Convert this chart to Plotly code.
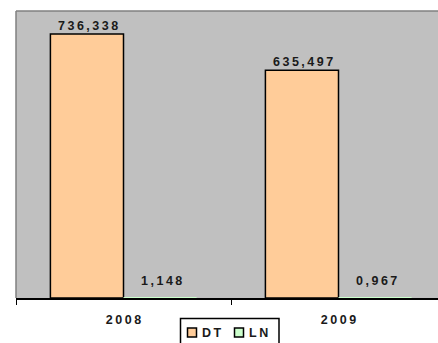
import plotly.graph_objects as go

years = ["2008", "2009"]
dt_values = [736.338, 635.497]
ln_values = [1.148, 0.967]
series_names = ["DT", "LN"]
series_colors = ["#FFCC99", "#CCFFCC"]

THIN = "\u2009"
FONT = "Liberation Sans, Arial, sans-serif"
TEXT_COLOR = "#1a1a1a"

# layout geometry (pixels)
W, H = 438, 343
M_L, M_T, M_B = 16, 11, 45
PLOT_W = W - M_L
PLOT_H = H - M_T - M_B
CAT_PX = 215          # width of one category slot
BARGAP = 0.32
Y_MAX = 800.5


def spaced(s):
    return THIN.join(s)


def fmt(v):
    # comma as decimal separator, letters spread apart
    return spaced(f"{v:.3f}".replace(".", ","))


def px_x(px):
    return (px - M_L) / PLOT_W


def px_y(py):
    return (H - M_B - py) / PLOT_H


bold = dict(family=FONT, size=12.5, color=TEXT_COLOR, weight="bold")

fig = go.Figure()
series_values = [dt_values, ln_values]
for name, color, vals in zip(series_names, series_colors, series_values):
    fig.add_trace(go.Bar(
        name=name, x=years, y=vals, showlegend=False,
        marker=dict(color=color,
                    line=dict(color="#000000", width=1.5 if max(vals) > 10 else 0)),
        hoverinfo="x+y",
    ))

# value labels above each bar (category axis: positions by category index)
bar_w = (1 - BARGAP) / len(series_names)
label_lift = [8.5, 17]
annotations = []
for i, (vals, lift) in enumerate(zip(series_values, label_lift)):
    offset = (-(len(series_names) - 1) / 2 + i) * bar_w
    for j, v in enumerate(vals):
        annotations.append(dict(
            x=j + offset, y=v, xref="x", yref="y", text=fmt(v), showarrow=False,
            xshift=1, yshift=lift, yanchor="middle", font=bold,
        ))

# legend box with outlined swatches
shapes = [
    dict(type="line", xref="paper", yref="paper", x0=0, x1=1, y0=1, y1=1,
         line=dict(color="#808080", width=1.5)),
    dict(type="line", xref="paper", yref="paper", x0=0, x1=0, y0=0, y1=1,
         line=dict(color="#808080", width=1.5)),
    dict(type="rect", xref="paper", yref="paper",
         x0=px_x(180.5), x1=px_x(279), y0=px_y(318.5), y1=px_y(360),
         line=dict(color="#000000", width=1.5), fillcolor="white"),
]
legend_x = [187.5, 234.5]
for name, color, lx in zip(series_names, series_colors, legend_x):
    shapes.append(dict(
        type="rect", xref="paper", yref="paper",
        x0=px_x(lx), x1=px_x(lx + 9), y0=px_y(337), y1=px_y(328),
        line=dict(color="#000000", width=1.5), fillcolor=color,
    ))
    annotations.append(dict(
        x=px_x(lx + 12.5), y=px_y(332.5), xref="paper", yref="paper",
        text=spaced(name), showarrow=False, xanchor="left", yanchor="middle",
        font=bold,
    ))

fig.update_layout(
    width=W, height=H,
    margin=dict(l=M_L, r=0, t=M_T, b=M_B, autoexpand=False),
    paper_bgcolor="white",
    plot_bgcolor="#C0C0C0",
    barmode="group",
    bargap=BARGAP,
    bargroupgap=0,
    showlegend=False,
    xaxis=dict(
        type="category",
        range=[-0.5, -0.5 + PLOT_W / CAT_PX],
        showline=True, linecolor="#000000", linewidth=1.5,
        ticks="outside", tickson="boundaries", ticklen=5, tickcolor="#000000",
        tickfont=bold,
        ticklabelstandoff=9,
        labelalias={y: spaced(y) for y in years},
        showgrid=False, zeroline=False,
    ),
    yaxis=dict(
        range=[0, Y_MAX], showticklabels=False, showgrid=False,
        zeroline=False, ticks="",
    ),
    shapes=shapes,
    annotations=annotations,
)

fig.write_html("out.html")
